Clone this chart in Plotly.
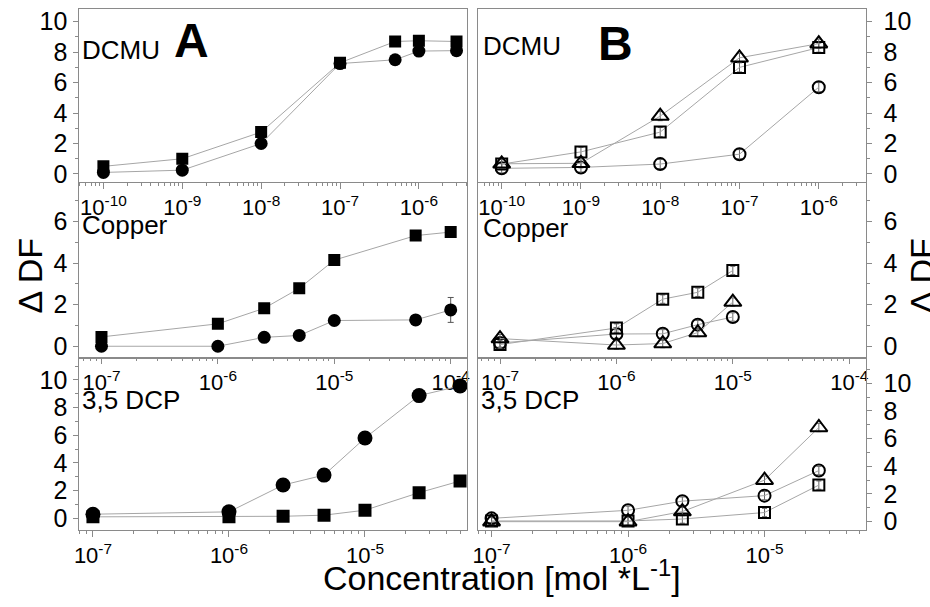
import plotly.graph_objects as go

# ---- DCMU ----
dcmu_x_a = [1e-10, 1e-9, 1e-8, 1e-7, 5e-7, 1e-6, 3e-6]
dcmu_a_sq = [0.5, 1.0, 2.75, 7.3, 8.7, 8.75, 8.7]
dcmu_a_ci = [0.1, 0.25, 2.0, 7.25, 7.5, 8.07, 8.1]

dcmu_x_b = [1e-10, 1e-9, 1e-8, 1e-7, 1e-6]
dcmu_b_tri = [0.67, 0.7, 3.8, 7.63, 8.56]
dcmu_b_sq = [0.65, 1.45, 2.75, 7.0, 8.3]
dcmu_b_ci = [0.37, 0.43, 0.65, 1.3, 5.7]

# ---- Copper ----
cu_x_a = [1e-7, 1e-6, 2.5e-6, 5e-6, 1e-5, 5e-5, 1e-4]
cu_a_sq = [0.45, 1.08, 1.83, 2.79, 4.15, 5.33, 5.5]
cu_a_ci = [0.0, 0.0, 0.43, 0.52, 1.24, 1.27, 1.75]
cu_a_ci_err = [0, 0, 0, 0, 0, 0, 0.6]

cu_x_b = [1e-7, 1e-6, 2.5e-6, 5e-6, 1e-5]
cu_b_sq = [0.08, 0.88, 2.27, 2.6, 3.65]
cu_b_ci = [0.16, 0.59, 0.6, 1.04, 1.41]
cu_b_tri = [0.37, 0.06, 0.13, 0.66, 2.13]

# ---- 3,5 DCP ----
dcp_x_a = [1e-7, 1e-6, 2.5e-6, 5e-6, 1e-5, 2.5e-5, 5e-5]
dcp_a_ci = [0.29, 0.46, 2.4, 3.12, 5.8, 8.87, 9.57]
dcp_a_sq = [0.1, 0.1, 0.14, 0.22, 0.58, 1.85, 2.69]

dcp_x_b = [1e-7, 1e-6, 2.5e-6, 1e-5, 2.5e-5]
dcp_b_tri = [0.0, 0.0, 0.73, 3.0, 6.8]
dcp_b_ci = [0.24, 0.82, 1.48, 1.88, 3.69]
dcp_b_sq = [0.05, 0.05, 0.19, 0.66, 2.64]

# small replicate error on the open-symbol series
err_b = 0.3
err_b_cu = 0.2

# tick labels
top_ticks = [1e-10, 1e-9, 1e-8, 1e-7, 1e-6]
top_text = ["10<sup>-10</sup>", "10<sup>-9</sup>", "10<sup>-8</sup>", "10<sup>-7</sup>", "10<sup>-6</sup>"]
mid_ticks = [1e-7, 1e-6, 1e-5, 1e-4]
mid_text = ["10<sup>-7</sup>", "10<sup>-6</sup>", "10<sup>-5</sup>", "10<sup>-4</sup>"]
bot_ticks = [1e-7, 1e-6, 1e-5]
bot_text = ["10<sup>-7</sup>", "10<sup>-6</sup>", "10<sup>-5</sup>"]

FONT = "Liberation Sans, Arial, sans-serif"
FRAME = "#8a8a8a"
LINE = "#a6a6a6"

W, H = 930, 607

# minor ticks at 2..9 within every decade of the log axes
LOG_MINOR = [m * 10.0 ** e for e in range(-11, -3) for m in range(2, 10)]


def px_x(a, b):
    return [a / W, b / W]


def px_y(top, bottom):
    return [1 - bottom / H, 1 - top / H]


fig = go.Figure()


def filled(x, y, sym, size, xa, ya, err=None):
    fig.add_trace(go.Scatter(
        x=x, y=y, mode="lines+markers", xaxis=xa, yaxis=ya,
        line=dict(color=LINE, width=1),
        marker=dict(symbol=sym, size=size, color="black", line=dict(width=0)),
        error_y=(dict(type="data", array=err, visible=True, color="#555555",
                      thickness=1, width=3) if err is not None else None),
        showlegend=False,
    ))


def hollow(x, y, sym, size, xa, ya, err):
    fig.add_trace(go.Scatter(
        x=x, y=y, mode="lines+markers", xaxis=xa, yaxis=ya,
        line=dict(color=LINE, width=1),
        marker=dict(symbol=sym, size=size, color="black", line=dict(width=2, color="black")),
        error_y=dict(type="data", array=[err] * len(x), visible=True, color="#666666",
                     thickness=1, width=2.5),
        showlegend=False,
    ))


# column A
filled(dcmu_x_a, dcmu_a_sq, "square", 12, "x", "y")
filled(dcmu_x_a, dcmu_a_ci, "circle", 13, "x", "y")
filled(cu_x_a, cu_a_sq, "square", 12, "x3", "y3")
filled(cu_x_a, cu_a_ci, "circle", 13, "x3", "y3", err=cu_a_ci_err)
filled(dcp_x_a, dcp_a_sq, "square", 13, "x5", "y5")
filled(dcp_x_a, dcp_a_ci, "circle", 15, "x5", "y5")

# column B
hollow(dcmu_x_b, dcmu_b_ci, "circle-open", 12, "x2", "y2", err_b)
hollow(dcmu_x_b, dcmu_b_sq, "square-open", 11, "x2", "y2", err_b)
hollow(dcmu_x_b, dcmu_b_tri, "triangle-up-open", 15, "x2", "y2", err_b)
hollow(cu_x_b, cu_b_ci, "circle-open", 12, "x4", "y4", err_b_cu)
hollow(cu_x_b, cu_b_sq, "square-open", 11, "x4", "y4", err_b_cu)
hollow(cu_x_b, cu_b_tri, "triangle-up-open", 15, "x4", "y4", err_b_cu)
hollow(dcp_x_b, dcp_b_ci, "circle-open", 12, "x6", "y6", err_b)
hollow(dcp_x_b, dcp_b_sq, "square-open", 11, "x6", "y6", err_b)
hollow(dcp_x_b, dcp_b_tri, "triangle-up-open", 15, "x6", "y6", err_b)


def xaxis(dom, anchor, rng, tv, tt):
    return dict(
        type="log", domain=dom, anchor=anchor, range=rng,
        showline=True, mirror=True, linecolor=FRAME, linewidth=1,
        ticks="outside", ticklen=6, tickcolor=FRAME, tickwidth=1,
        tickmode="array", tickvals=tv, ticktext=tt,
        tickfont=dict(family=FONT, size=22, color="black"),
        minor=dict(ticks="outside", ticklen=3, tickcolor=FRAME, showgrid=False,
                   tickmode="array", tickvals=LOG_MINOR),
        showgrid=False, zeroline=False,
    )


def yaxis(dom, anchor, rng, side):
    return dict(
        domain=dom, anchor=anchor, range=rng, side=side,
        showline=True, mirror=True, linecolor=FRAME, linewidth=1,
        ticks="outside", ticklen=5, tickcolor=FRAME, tickwidth=1,
        tick0=0, dtick=2,
        tickfont=dict(family=FONT, size=25, color="black"),
        ticklabelstandoff=(1 if side == "left" else 7),
        minor=dict(ticks="outside", ticklen=3, tickcolor=FRAME, dtick=1, tick0=0, showgrid=False),
        showgrid=False, zeroline=False,
    )


colA = px_x(75, 466)
colB = px_x(477, 868)
row1 = px_y(8, 183)
row2 = px_y(184, 360)
row3 = px_y(362, 535)

fig.update_layout(
    width=W, height=H,
    margin=dict(l=0, r=0, t=0, b=0),
    paper_bgcolor="white", plot_bgcolor="white",
    font=dict(family=FONT, color="black"),
    xaxis=xaxis(colA, "y", [-10.305, -5.39], top_ticks, top_text),
    yaxis=yaxis(row1, "x", [-0.52, 10.84], "left"),
    xaxis2=xaxis(colB, "y2", [-10.30, -5.41], top_ticks, top_text),
    yaxis2=yaxis(row1, "x2", [-0.52, 10.84], "right"),
    xaxis3=xaxis(colA, "y3", [-7.19, -3.86], mid_ticks, mid_text),
    yaxis3=yaxis(row2, "x3", [-0.51, 7.87], "left"),
    xaxis4=xaxis(colB, "y4", [-7.19, -3.86], mid_ticks, mid_text),
    yaxis4=yaxis(row2, "x4", [-0.51, 7.87], "right"),
    xaxis5=xaxis(colA, "y5", [-7.10, -4.25], bot_ticks, bot_text),
    yaxis5=yaxis(row3, "x5", [-0.84, 11.53], "left"),
    xaxis6=xaxis(colB, "y6", [-7.10, -4.26], bot_ticks, bot_text),
    yaxis6=yaxis(row3, "x6", [-0.59, 11.76], "right"),
)


def label(text, x, y, size, bold=False, angle=0, xanchor="left"):
    fig.add_annotation(
        x=x / W, y=1 - y / H, xref="paper", yref="paper",
        text=("<b>%s</b>" % text) if bold else text,
        showarrow=False, xanchor=xanchor, yanchor="middle", textangle=angle,
        font=dict(family=FONT, size=size, color="black"),
    )


label("DCMU", 76, 50, 26)
label("A", 188, 40, 48, bold=True, xanchor="center")
label("DCMU", 480, 46, 26)
label("B", 616, 43, 48, bold=True, xanchor="center")
label("Copper", 76, 227, 26)
label("Copper", 480, 230, 26)
label("3,5 DCP", 76, 404, 26)
label("3,5 DCP", 478, 404, 26)

label("\u0394 DF", 25, 278, 34, angle=-90, xanchor="center")
label("\u0394 DF", 925, 278, 34, angle=-90, xanchor="center")
label("Concentration [mol *L<sup>-1</sup>]", 501, 581, 34, xanchor="center")

fig.write_html("out.html")
